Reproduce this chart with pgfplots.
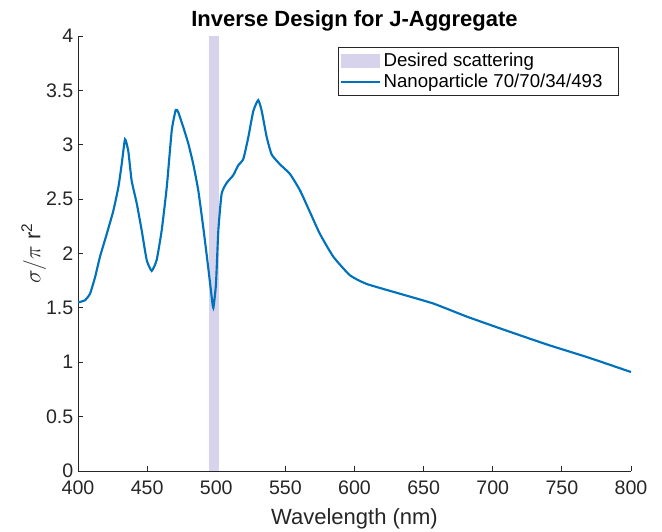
\documentclass[border=0pt]{standalone}
\usepackage{fontspec}
\setmainfont{Liberation Sans}
\usepackage{pgfplots}
\pgfplotsset{compat=1.18}
\usetikzlibrary{calc}
\definecolor{mblue}{rgb}{0,0.447,0.741}
\definecolor{bandcol}{RGB}{215,211,236}
\definecolor{axgray}{rgb}{0.15,0.15,0.15}

\begin{document}
\begin{tikzpicture}
\begin{axis}[
  scale only axis,
  width=414.75pt, height=326.25pt,
  xmin=400, xmax=800, ymin=0, ymax=4,
  xtick={400,450,500,550,600,650,700,750,800},
  ytick={0,0.5,1,1.5,2,2.5,3,3.5,4},
  axis x line*=bottom, axis y line*=left,
  tick align=inside, major tick length=4pt,
  axis line style={axgray, line width=0.6pt},
  every tick/.style={axgray, line width=0.6pt},
  ticklabel style={font=\fontsize{14.7}{17}\selectfont, text=axgray},
  xticklabel style={yshift=-4pt},
  /pgf/number format/assume math mode=true,
  title={\textbf{Inverse Design for J-Aggregate}},
  title style={font=\fontsize{16.5}{19}\selectfont, at={(axis description cs:0.5,1)}, anchor=center, yshift=5pt},
  xlabel={Wavelength (nm)},
  xlabel style={font=\fontsize{16.5}{19}\selectfont, text=axgray, at={(axis description cs:0.5,0)}, anchor=center, yshift=-36pt},
  ylabel={$\sigma/\pi$ r\textsuperscript{2}},
  ylabel style={font=\fontsize{16.5}{19}\selectfont, text=axgray, at={(axis description cs:-0.08,0.5)}, anchor=center},
  legend style={at={(axis description cs:0.978,0.975)}, anchor=north east,
    draw=axgray, line width=0.5pt, font=\fontsize{14}{17}\selectfont,
    inner xsep=1pt, inner ysep=2.5pt, row sep=0pt},
  legend cell align=left,
]
\addplot[fill=bandcol, draw=none,
  legend image code/.code={\fill[bandcol] (0pt,-5pt) rectangle (29pt,5pt);}]
  coordinates {(494.8,0) (502,0) (502,4) (494.8,4)} -- cycle;
\addlegendentry{Desired scattering}
\addplot[mblue, line width=1.6pt, smooth, tension=0.3,
  legend image code/.code={\draw[mblue, line width=1.6pt] (0pt,0pt) -- (29pt,0pt);}]
  coordinates {
  (400,1.55) (403,1.56) (405.1,1.57) (408.7,1.63) (412.3,1.78) (415.9,1.97)
  (420.8,2.18) (425.5,2.39) (429.2,2.61) (431.6,2.82) (434.0,3.05)
  (436.4,2.94) (438.8,2.67) (442.5,2.46) (446.1,2.21) (449.7,1.94)
  (453.3,1.84) (456.9,1.94) (460.5,2.21) (464.2,2.61) (467.8,3.13)
  (470.7,3.32) (472.5,3.30) (476.2,3.16) (479.8,3.01) (483.4,2.82)
  (487.0,2.58) (490.6,2.24) (494.2,1.87) (496.7,1.60) (497.9,1.50)
  (499.8,1.72) (501.5,2.21) (503.9,2.55) (507.6,2.65) (512.3,2.72)
  (515.9,2.81) (519.6,2.87) (523.2,3.07) (526.8,3.31) (530.4,3.41)
  (532.9,3.31) (536.5,3.07) (540.1,2.91) (546.1,2.82) (553.4,2.73)
  (560.6,2.58) (567.8,2.38) (575.0,2.18) (584.7,1.97) (596.7,1.80)
  (608.8,1.72) (632.9,1.63) (657.0,1.54) (681.2,1.42) (710.1,1.29)
  (740,1.16) (770,1.04) (800,0.91)
  };
\addlegendentry{Nanoparticle 70/70/34/493\kern9pt}
\end{axis}
\pgfresetboundingbox
\path[use as bounding box] ($(current axis.south west)+(-58.5pt,-45pt)$) rectangle ($(current axis.north east)+(23.25pt,27pt)$);
\end{tikzpicture}
\end{document}
